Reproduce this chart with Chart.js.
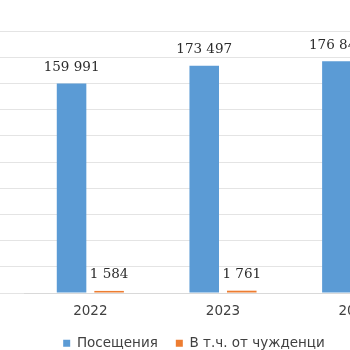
<!DOCTYPE html>
<html>
<head>
<meta charset="utf-8">
<script src="https://cdn.jsdelivr.net/npm/chart.js@4"></script>
<style>
  html, body { margin: 0; padding: 0; background: #fff; }
  #frame { position: relative; width: 350px; height: 350px; overflow: hidden; }
  #wrap { position: absolute; left: -34px; top: 0; width: 456px; height: 360px; }
</style>
</head>
<body>
<div id="frame">
  <div id="wrap"><canvas id="myChart"></canvas></div>
</div>
<script>
let years = ["2022", "2023", "2024"];
let visits = [159991, 173497, 176846];
let foreigners = [1584, 1761, 1790];
let seriesNames = ["Посещения", "В т.ч. от чужденци"];

// 159991 -> "159 991"
function fmt(v) {
  return String(v).replace(/\B(?=(\d{3})+(?!\d))/g, " ");
}

// values above the bars
let valueLabels = {
  id: "valueLabels",
  afterDatasetsDraw(chart) {
    let ctx = chart.ctx;
    ctx.save();
    ctx.font = '13.5px "DejaVu Serif"';
    ctx.fillStyle = "#2b2b2b";
    ctx.textAlign = "center";
    ctx.textBaseline = "middle";
    chart.data.datasets.forEach(function (ds, i) {
      chart.getDatasetMeta(i).data.forEach(function (bar, j) {
        ctx.fillText(fmt(ds.data[j]), bar.x, bar.y - 16);
      });
    });
    ctx.restore();
  },
};

let ctx = document.getElementById("myChart").getContext("2d");
let myChart = new Chart(ctx, {
  type: "bar",
  data: {
    labels: years,
    datasets: [
      {
        label: seriesNames[0],
        data: visits,
        backgroundColor: "#5b9bd5",
        categoryPercentage: 0.566,
        barPercentage: 0.787,
      },
      {
        label: seriesNames[1],
        data: foreigners,
        backgroundColor: "#ed7d31",
        categoryPercentage: 0.566,
        barPercentage: 0.787,
      },
    ],
  },
  options: {
    responsive: true,
    maintainAspectRatio: false,
    animation: false,
    layout: { padding: { top: 31 } },
    scales: {
      x: {
        grid: { display: false, drawTicks: false },
        border: { display: true, color: "#d9d9d9" },
        ticks: {
          color: "#404040",
          padding: 12,
          font: { family: "DejaVu Sans", size: 13.5, lineHeight: 1 },
        },
        afterFit: function (scale) {
          scale.height = 25.5;
        },
      },
      y: {
        min: 0,
        max: 200000,
        ticks: { display: false, stepSize: 20000 },
        grid: { color: "#e4e4e4", drawTicks: true, tickLength: 58 },
        border: { display: false },
      },
    },
    plugins: {
      tooltip: { enabled: false },
      legend: {
        position: "bottom",
        labels: {
          boxWidth: 7,
          boxHeight: 7,
          padding: 18,
          color: "#404040",
          font: { family: "DejaVu Sans", size: 13.5 },
        },
      },
    },
  },
  plugins: [valueLabels],
});
</script>
</body>
</html>
